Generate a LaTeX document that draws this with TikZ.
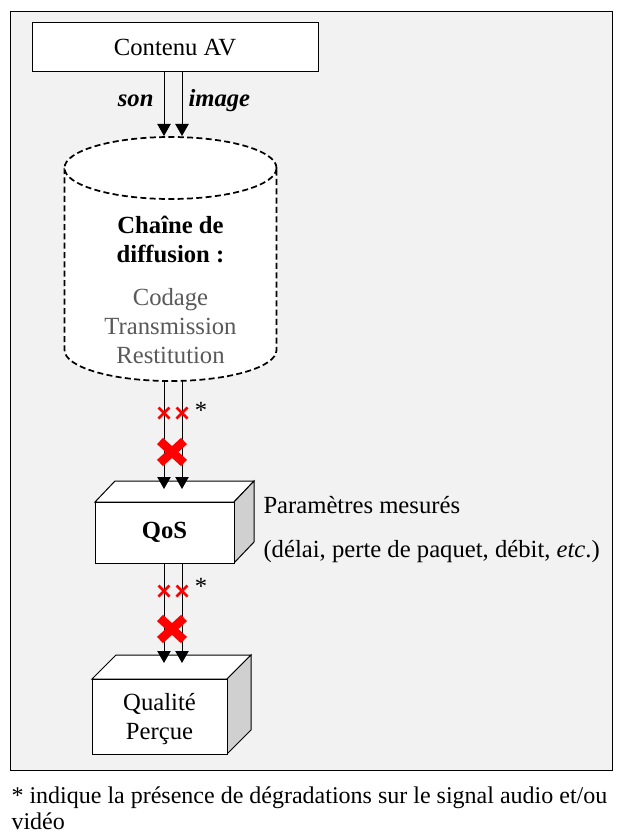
\documentclass[tikz,border=0pt]{standalone}
\usepackage{fontspec}
\setmainfont{Liberation Serif}
\usepackage{tikz}
\usetikzlibrary{arrows.meta}
\definecolor{fondgris}{RGB}{242,242,242}
\definecolor{facegris}{RGB}{208,208,208}
\definecolor{textegris}{RGB}{89,89,89}
\newcommand{\taille}{\fontsize{18.5}{21.75}\selectfont}
\newcommand{\petite}{\fontsize{18}{19.5}\selectfont}
\tikzset{every picture/.style={line width=0.75pt}}

\begin{document}
\begin{tikzpicture}[x=0.75pt,y=0.75pt,yscale=-1,xscale=1,
  every node/.style={font=\taille,inner sep=0.75pt},
  fleche/.style={-{Triangle[width=10pt,length=9pt]}},
  pointille/.style={line width=1.3pt,dash pattern=on 4.5pt off 2.5pt},
  croix/.style={draw=red,line width=2pt},
  grossecroix/.style={draw=red,line width=6.5pt}]
\useasboundingbox (0,0) rectangle (618,834);

% cadre
\draw[fill=fondgris] (10,12) rectangle (612,770);

% contenu
\draw[fill=white] (32,23) rectangle (318,72);
\draw (175,48) node (contenu) {Contenu AV};
\coordinate (sonA) at (164,72);
\coordinate (sonB) at (164,136);
\coordinate (imgA) at (182,72);
\coordinate (imgB) at (182,136);
\draw[fleche] (sonA) -- (sonB);
\draw[fleche] (imgA) -- (imgB);
\draw (155,101) node [anchor=east] (son) {\textbf{\textit{son}}};
\draw (187,101) node [anchor=west] (image) {\textbf{\textit{image}}};

% cylindre
\fill[white] (64.5,168) -- (64.5,350) arc (180:0:106 and 31) -- (276.5,168);
\draw[pointille] (64.5,168) -- (64.5,350) arc (180:0:106 and 31) -- (276.5,168);
\draw[pointille,fill=white] (170.5,168) ellipse (106 and 31);
\draw (170.5,239) node [font=\taille\bfseries,align=center] (chaine) {Chaîne de\\diffusion :};
\draw (170.5,326) node [text=textegris,align=center] (etapes) {Codage\\Transmission\\Restitution};

% QoS
\draw[fill=white] (95,502) -- (115,481) -- (254,481) -- (234,502) -- cycle;
\draw[fill=facegris] (234,502) -- (254,481) -- (254,542) -- (234,563) -- cycle;
\draw[fill=white] (95,502) rectangle (234,563);
\draw (164.5,532) node [font=\taille\bfseries] (qos) {QoS};
\draw (262,505) node [anchor=west] (param) {Paramètres mesurés};
\draw (262,552) node [anchor=west] (details) {(délai, perte de paquet, débit, \textit{etc}.)};

\coordinate (sonC) at (164,381);
\coordinate (sonD) at (164,489);
\coordinate (imgC) at (182,381);
\coordinate (imgD) at (182,489);
\draw[fleche] (sonC) -- (sonD);
\draw[fleche] (imgC) -- (imgD);
\draw[croix] (158.5,407.5) -- (169.5,418.5) (158.5,418.5) -- (169.5,407.5);
\draw[croix] (176.5,407.5) -- (187.5,418.5) (176.5,418.5) -- (187.5,407.5);
\draw[grossecroix] (160,441) -- (184,463) (160,463) -- (184,441);
\draw (201,410) node (etoileA) {*};

% qualite percue
\draw[fill=white] (92,679) -- (116,655) -- (251,655) -- (227,679) -- cycle;
\draw[fill=facegris] (227,679) -- (251,655) -- (251,730) -- (227,754) -- cycle;
\draw[fill=white] (92,679) rectangle (227,754);
\draw (159.5,719) node [align=center] (qualite) {Qualité\\Perçue};

\coordinate (sonE) at (164,563);
\coordinate (sonF) at (164,663);
\coordinate (imgE) at (182,563);
\coordinate (imgF) at (182,663);
\draw[fleche] (sonE) -- (sonF);
\draw[fleche] (imgE) -- (imgF);
\draw[croix] (158.5,585.5) -- (169.5,596.5) (158.5,596.5) -- (169.5,585.5);
\draw[croix] (176.5,585.5) -- (187.5,596.5) (176.5,596.5) -- (187.5,585.5);
\draw[grossecroix] (160,618) -- (184,640) (160,640) -- (184,618);
\draw (201,586) node (etoileB) {*};

% note
\draw (10,785) node [anchor=north west,align=left,font=\petite] (note) {* indique la présence de dégradations sur le signal audio et/ou\\vidéo};
\end{tikzpicture}
\end{document}
